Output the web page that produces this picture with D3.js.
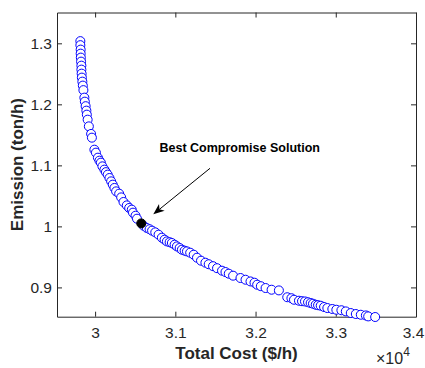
<!DOCTYPE html>
<html>
<head>
<meta charset="utf-8">
<script src="https://cdn.jsdelivr.net/npm/d3@7"></script>
<style>
  body { margin: 0; background: #fff; }
  svg { display: block; font-family: "Liberation Sans", Arial, sans-serif; }
</style>
</head>
<body>
<div id="chart"></div>
<script>
// pareto front (cost in $/h, emission in ton/h)
var cost = [29816, 29816, 29820, 29820, 29822, 29825, 29829, 29829, 29832, 29835,
  29841, 29847, 29854, 29866, 29872, 29882, 29891, 29897, 29907, 29922,
  29950, 29960, 29991, 30010, 30035, 30054, 30072, 30091, 30116, 30135,
  30157, 30179, 30200, 30220, 30241, 30262, 30300, 30325, 30354, 30395,
  30425, 30457, 30472, 30504, 30522, 30604, 30645, 30679, 30710, 30750,
  30791, 30832, 30866, 30895, 30929, 30957, 30991, 31020, 31054, 31082,
  31116, 31145, 31185, 31229, 31270, 31320, 31375, 31416, 31470, 31520,
  31582, 31625, 31666, 31720, 31812, 31875, 31937, 31987, 32020, 32066,
  32125, 32200, 32291, 32395, 32447, 32479, 32541, 32579, 32616, 32654,
  32687, 32716, 32750, 32779, 32812, 32854, 32895, 32957, 33007, 33070,
  33125, 33187, 33250, 33312, 33375, 33404, 33491];
var emission = [1.3036, 1.2970, 1.2897, 1.2831, 1.2766, 1.2700, 1.2634, 1.2569, 1.2503, 1.2438,
  1.2372, 1.2307, 1.2233, 1.2110, 1.2044, 1.1970, 1.1897, 1.1831, 1.1749, 1.1639,
  1.1515, 1.1454, 1.1257, 1.1208, 1.1126, 1.1077, 1.1044, 1.0984, 1.0930, 1.0889,
  1.0848, 1.0793, 1.0738, 1.0684, 1.0630, 1.0574, 1.0536, 1.0475, 1.0400, 1.0344,
  1.0302, 1.0274, 1.0225, 1.0175, 1.0126, 1.0011, 0.9974, 0.9954, 0.9930, 0.9902,
  0.9864, 0.9815, 0.9782, 0.9754, 0.9741, 0.9728, 0.9700, 0.9672, 0.9646, 0.9618,
  0.9602, 0.9590, 0.9569, 0.9536, 0.9487, 0.9438, 0.9405, 0.9380, 0.9348, 0.9315,
  0.9274, 0.9252, 0.9225, 0.9192, 0.9154, 0.9126, 0.9098, 0.9077, 0.9044, 0.9020,
  0.8990, 0.8962, 0.8951, 0.8839, 0.8823, 0.8798, 0.8782, 0.8774, 0.8770, 0.8757,
  0.8744, 0.8733, 0.8716, 0.8708, 0.8700, 0.8679, 0.8662, 0.8646, 0.8634, 0.8626,
  0.8607, 0.8580, 0.8564, 0.8552, 0.8541, 0.8525, 0.8515];
var bestCost = [30575];
var bestEmission = [1.0049];

var xTicks = [30000, 31000, 32000, 33000, 34000];   // shown as 3 ... 3.4 (x10^4)
var yTicks = [0.9, 1, 1.1, 1.2, 1.3];
var xDomain = [29525, 34000];
var yDomain = [0.852, 1.3505];

var W = 425, H = 368;
var mLeft = 57, mRight = 416, mTop = 12.5, mBottom = 316.7;
var axisColor = "#262626";

var svg = d3.select("#chart").append("svg")
    .attr("width", W)
    .attr("height", H);

var x = d3.scaleLinear().domain(xDomain).range([mLeft, mRight]);
var y = d3.scaleLinear().domain(yDomain).range([mBottom, mTop]);

// box + inward ticks on all sides (matlab style)
function styleAxis(g) {
    g.selectAll("path.domain").attr("stroke", axisColor).attr("stroke-width", 1);
    g.selectAll(".tick line").attr("stroke", axisColor).attr("stroke-width", 1);
    g.selectAll(".tick text").attr("fill", axisColor)
        .style("font-size", "15.5px")
        .style("font-family", "'Liberation Sans', Arial, sans-serif");
}

var xAxisG = svg.append("g")
    .attr("transform", "translate(0," + mBottom + ")")
    .call(d3.axisBottom(x).tickValues(xTicks).tickSizeInner(-5).tickSizeOuter(0)
        .tickPadding(10).tickFormat(function (d) { return d3.format("")(d / 10000); }))
    .call(styleAxis);
// last label sits on the window edge, pull it in a bit
xAxisG.selectAll(".tick text").filter(function (d) { return d === xTicks[xTicks.length - 1]; })
    .attr("dx", -3);

svg.append("g")
    .attr("transform", "translate(0," + mTop + ")")
    .call(d3.axisTop(x).tickValues(xTicks).tickSizeInner(-5).tickSizeOuter(0).tickFormat(""))
    .call(styleAxis);

svg.append("g")
    .attr("transform", "translate(" + mLeft + ",0)")
    .call(d3.axisLeft(y).tickValues(yTicks).tickSizeInner(-5).tickSizeOuter(0)
        .tickPadding(5).tickFormat(d3.format("")))
    .call(styleAxis);

svg.append("g")
    .attr("transform", "translate(" + mRight + ",0)")
    .call(d3.axisRight(y).tickValues(yTicks).tickSizeInner(-5).tickSizeOuter(0).tickFormat(""))
    .call(styleAxis);

// axis labels
svg.append("text")
    .attr("x", (mLeft + mRight) / 2)
    .attr("y", 359)
    .attr("text-anchor", "middle")
    .attr("fill", axisColor)
    .style("font-size", "17px")
    .style("font-weight", "bold")
    .text("Total Cost ($/h)");

svg.append("text")
    .attr("transform", "translate(23," + (mTop + mBottom) / 2 + ") rotate(-90)")
    .attr("text-anchor", "middle")
    .attr("fill", axisColor)
    .style("font-size", "17px")
    .style("font-weight", "bold")
    .text("Emission (ton/h)");

// exponent x10^4
var expo = svg.append("text")
    .attr("x", 376)
    .attr("y", 364)
    .attr("fill", axisColor)
    .style("font-size", "16px");
expo.append("tspan").text("\u00d710");
expo.append("tspan").attr("dy", -8).style("font-size", "12px").text("4");

// pareto points
var pts = cost.map(function (c, i) { return { c: c, e: emission[i] }; });
svg.append("g").selectAll("circle")
    .data(pts)
    .enter().append("circle")
    .attr("cx", function (d) { return x(d.c); })
    .attr("cy", function (d) { return y(d.e); })
    .attr("r", 4.5)
    .attr("fill", "#fff")
    .attr("stroke", "#0000ff")
    .attr("stroke-width", 1);

// best compromise point
svg.append("g").selectAll("circle")
    .data(bestCost)
    .enter().append("circle")
    .attr("cx", function (d) { return x(d); })
    .attr("cy", function (d, i) { return y(bestEmission[i]); })
    .attr("r", 4.5)
    .attr("fill", "#000")
    .attr("stroke", "#000");

// annotation arrow
var tipX = 153.3, tipY = 214.3, tailX = 210, tailY = 168.3;
var ang = Math.atan2(tipY - tailY, tipX - tailX);
var hl = 11, hw = 4.5;
var bx = tipX - hl * Math.cos(ang), by = tipY - hl * Math.sin(ang);
svg.append("line")
    .attr("x1", tailX).attr("y1", tailY)
    .attr("x2", bx + 3 * Math.cos(ang)).attr("y2", by + 3 * Math.sin(ang))
    .attr("stroke", "#000").attr("stroke-width", 1);
svg.append("path")
    .attr("d", "M" + tipX + "," + tipY +
        "L" + (bx + hw * Math.sin(ang)) + "," + (by - hw * Math.cos(ang)) +
        "L" + (bx + 3 * Math.cos(ang)) + "," + (by + 3 * Math.sin(ang)) +
        "L" + (bx - hw * Math.sin(ang)) + "," + (by + hw * Math.cos(ang)) + "Z")
    .attr("fill", "#000");

svg.append("text")
    .attr("x", 159.5)
    .attr("y", 151.5)
    .attr("fill", "#000")
    .style("font-size", "12.5px")
    .style("font-weight", "bold")
    .text("Best Compromise Solution");
</script>
</body>
</html>
